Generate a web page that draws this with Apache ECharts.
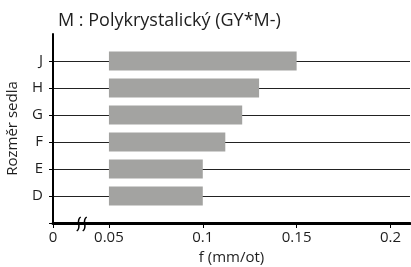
<!DOCTYPE html>
<html>
<head>
<meta charset="utf-8">
<script src="https://cdn.jsdelivr.net/npm/echarts@6/dist/echarts.min.js"></script>
<style>
html, body { margin: 0; padding: 0; background: #fff; }
#chart { width: 411px; height: 267px; }
</style>
</head>
<body>
<div id="chart"></div>
<script>
// kategorie zdola nahoru, prázdné položky jsou okraje osy
var categories = ["", "D", "E", "F", "G", "H", "J", ""];
var barStart = [null, 0.05, 0.05, 0.05, 0.05, 0.05, 0.05, null];
var barEnd = [null, 0.1, 0.1, 0.112, 0.121, 0.13, 0.15, null];
// osa x je zlomená: začátek osy se popisuje jako 0
var xAxisMin = 0.0202;
var xAxisMax = 0.2104;
var xTickValues = [xAxisMin, 0.05, 0.1, 0.15, 0.2];
var xTickLabels = ["0", "0.05", "0.1", "0.15", "0.2"];
var breakValue = 0.0355;

var font = "Open Sans";
var textColor = "#1e1e1e";

var myChart = echarts.init(document.getElementById("chart"));

var option = {
  animation: false,
  title: {
    text: "M : Polykrystalický (GY*M-)",
    left: 53,
    top: 7,
    textStyle: { fontFamily: font, fontSize: 18, fontWeight: "normal", color: textColor }
  },
  grid: { left: 53, right: 1, top: 34, bottom: 44, containLabel: false, outerBoundsMode: "none" },
  xAxis: {
    type: "value",
    min: xAxisMin,
    max: xAxisMax,
    name: "f (mm/ot)",
    nameLocation: "middle",
    nameGap: 23,
    nameTextStyle: { fontFamily: font, fontSize: 15, color: textColor },
    axisLine: { show: true, lineStyle: { color: "#000", width: 3 } },
    axisTick: { show: true, length: 5, customValues: xTickValues, lineStyle: { color: "#000" } },
    axisLabel: {
      customValues: xTickValues,
      margin: 7,
      fontFamily: font,
      fontSize: 15,
      color: textColor,
      formatter: function (v) {
        for (var i = 0; i < xTickValues.length; i++) {
          if (Math.abs(v - xTickValues[i]) < 1e-6) return xTickLabels[i];
        }
        return "";
      }
    },
    splitLine: { show: false }
  },
  yAxis: {
    type: "category",
    data: categories,
    boundaryGap: false,
    name: "Rozměr sedla",
    nameLocation: "middle",
    nameGap: 33,
    nameTextStyle: { fontFamily: font, fontSize: 15, color: textColor },
    axisLine: { show: true, lineStyle: { color: "#000", width: 2 } },
    axisTick: {
      show: true,
      length: 4,
      interval: function (i) { return i < categories.length - 1; },
      lineStyle: { color: "#000" }
    },
    axisLabel: { interval: 0, margin: 10, fontFamily: font, fontSize: 15, color: textColor },
    splitLine: {
      show: true,
      interval: function (i, v) { return v !== ""; },
      lineStyle: { color: "#222", width: 1 }
    }
  },
  series: [
    {
      name: "start",
      type: "bar",
      stack: "f",
      barWidth: 19,
      silent: true,
      itemStyle: { color: "transparent" },
      data: barStart
    },
    {
      name: "f",
      type: "bar",
      stack: "f",
      barWidth: 19,
      itemStyle: { color: "#a3a3a1" },
      data: barEnd.map(function (e, i) {
        return e == null ? null : +(e - barStart[i]).toFixed(4);
      })
    }
  ]
};

myChart.setOption(option);

// značka zlomu osy
var p = myChart.convertToPixel({ xAxisIndex: 0, yAxisIndex: 0 }, [breakValue, 0]);
function squiggle(cx, cy) {
  return {
    type: "bezierCurve",
    shape: {
      x1: cx + 2, y1: cy - 7,
      cpx1: cx - 4, cpy1: cy - 3,
      cpx2: cx + 4, cpy2: cy + 3,
      x2: cx - 2, y2: cy + 7
    },
    style: { stroke: "#000", lineWidth: 1.5, fill: null },
    z: 100
  };
}
myChart.setOption({
  graphic: [squiggle(p[0] - 3, p[1] + 1), squiggle(p[0] + 3, p[1] + 1)]
});
</script>
</body>
</html>
